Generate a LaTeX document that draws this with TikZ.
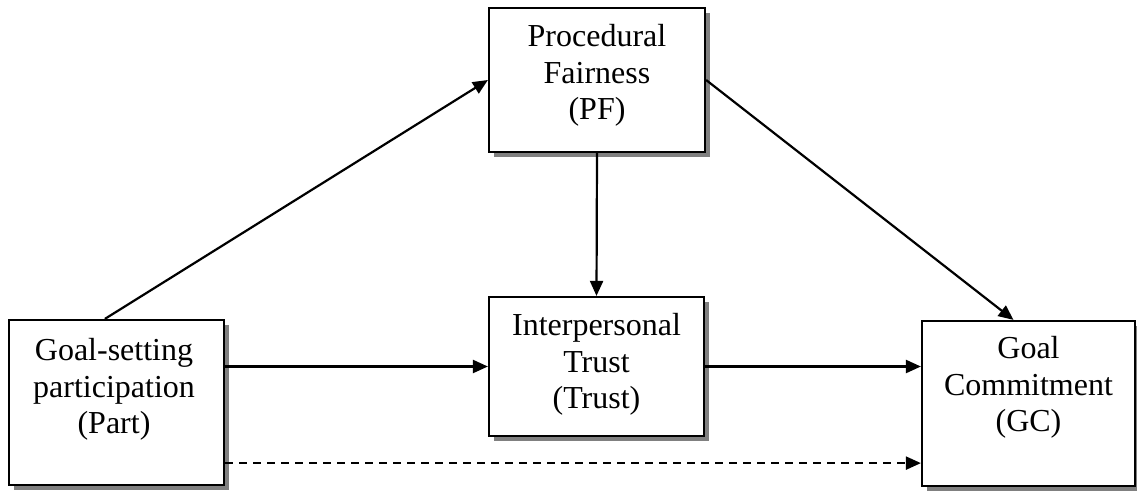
\documentclass[tikz,border=0pt]{standalone}
\usepackage{fontspec}
\setmainfont{Liberation Serif}
\usetikzlibrary{arrows.meta,shadows,calc}
\begin{document}
\begin{tikzpicture}[x=1pt,y=-1pt,
  box/.style={draw=black,line width=2.2pt,fill=white,inner sep=0pt,
    drop shadow={shadow xshift=5pt,shadow yshift=-5pt,fill=black!50,opacity=1}},
  lbl/.style={align=center,font=\fontsize{32}{36.5}\selectfont,inner sep=0pt},
  arr/.style={line width=2.2pt,-{Triangle[length=15pt,width=13pt]}},
  darr/.style={arr,dash pattern=on 8pt off 6pt}]
\useasboundingbox (0,0) rectangle (1137,493);
% boxes
\node[box,minimum width=215pt,minimum height=165pt] (Part) at (116.5,402.5) {};
\node[box,minimum width=216pt,minimum height=144pt] (PF) at (597,80) {};
\node[box,minimum width=215pt,minimum height=139pt] (Trust) at (596.5,366.5) {};
\node[box,minimum width=213pt,minimum height=165pt] (GC) at (1028.5,403.5) {};
% labels
\node[lbl] (Parttxt) at (114,389.6) {Goal-setting\\participation\\(Part)};
\node[lbl] (PFtxt) at (597,75.6) {Procedural\\Fairness\\(PF)};
\node[lbl] (Trusttxt) at (596.5,364.6) {Interpersonal\\Trust\\(Trust)};
\node[lbl] (GCtxt) at (1028.5,387.6) {Goal\\Commitment\\(GC)};
% connectors
\coordinate (PartTop) at ($(Part.north west)+(97,0)$);
\coordinate (GCTop) at ($(GC.north)+(-15,0)$);
\coordinate (PartDash) at ($(Part.south east)+(0,-23)$);
\draw[arr] (PartTop) -- (PF.west);
\draw[arr] (PF.east) -- (GCTop);
\draw[arr] (PF.south) -- (Trust.north);
\draw[arr] (Part.east |- Trust.west) -- (Trust.west);
\draw[arr] (Trust.east) -- (Trust.east -| GC.west);
\draw[darr] (PartDash) -- (PartDash -| GC.west);
\end{tikzpicture}
\end{document}
